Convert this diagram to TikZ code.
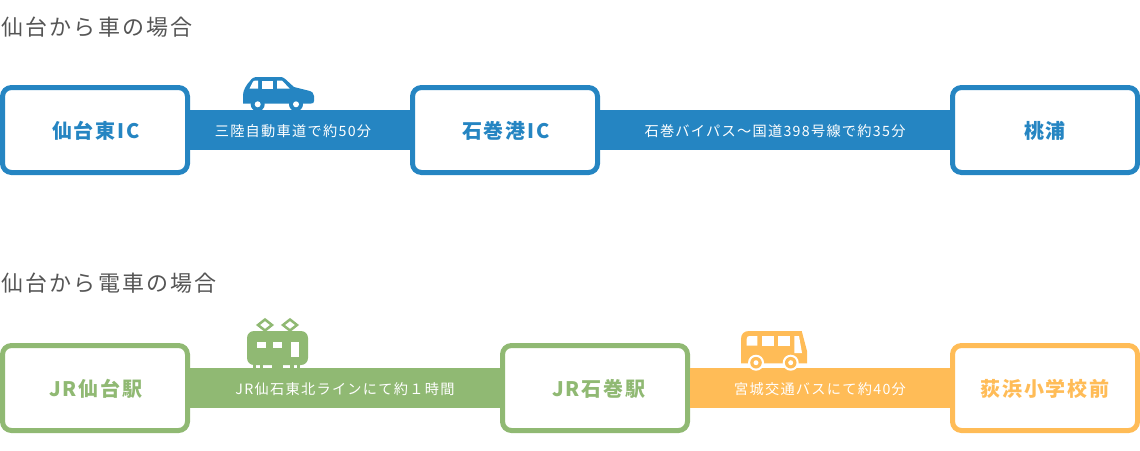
\documentclass[tikz,border=0pt]{standalone}
\usepackage{fontspec}
\setmainfont{Noto Sans CJK JP}
\newfontfamily\headfont[LetterSpace=10]{Noto Sans CJK JP}
\newfontfamily\stopfont[LetterSpace=9.5]{Noto Sans CJK JP}
\newfontfamily\legfont[LetterSpace=9]{Noto Sans CJK JP}
\definecolor{carblue}{HTML}{2585C2}
\definecolor{railgreen}{HTML}{90B973}
\definecolor{busorange}{HTML}{FFBC57}
\definecolor{headgray}{HTML}{555555}
\tikzset{
  head/.style={anchor=west, inner sep=0pt, text=headgray, font=\headfont\fontsize{22pt}{26pt}\selectfont},
  stop/.style={draw=#1, text=#1, fill=white, line width=5pt, rounded corners=9pt, minimum width=185pt, minimum height=85pt, inner sep=0pt, text height=18pt, text depth=2pt, font=\stopfont\bfseries\fontsize{20pt}{24pt}\selectfont},
  leg/.style={draw=#1, line width=40pt},
  leglabel/.style={text=white, inner sep=0pt, text height=14pt, text depth=2pt, font=\legfont\fontsize{14.2pt}{16pt}\selectfont}
}
\newcommand{\drawLeg}[6]{
  \draw[leg=#5] (#1.east) -- node[leglabel, #6] (#3) {#4} (#2.west);
}

\begin{document}
\begin{tikzpicture}[x=1pt, y=-1pt]
  \useasboundingbox (0,0) rectangle (1140,450);
  % Headings
  \node[head] (carHead) at (1,27) {仙台から車の場合};
  \node[head] (railHead) at (1,283) {仙台から電車の場合};

  % Nodes
  \node[stop=carblue] (A) at (95,130) {\hspace*{2pt}仙台東IC};
  \node[stop=carblue] (B) at (505,130) {\hspace*{2pt}石巻港IC};
  \node[stop=carblue] (C) at (1045,130) {桃浦};
  \node[stop=railgreen] (D) at (95,388) {\hspace*{2pt}JR仙台駅};
  \node[stop=railgreen] (E) at (595,388) {\hspace*{8pt}JR石巻駅};
  \node[stop=busorange] (F) at (1045,388) {荻浜小学校前};

  % Legs
  \drawLeg{A}{B}{legAB}{三陸自動車道で約50分}{carblue}{pos=0.468}
  \drawLeg{B}{C}{legBC}{石巻バイパス〜国道398号線で約35分}{carblue}{midway}
  \drawLeg{D}{E}{legDE}{JR仙石東北ラインにて約１時間}{railgreen}{midway}
  \drawLeg{E}{F}{legEF}{宮城交通バスにて約40分}{busorange}{midway}

  % Car
  \fill[carblue] (243,103.5) -- (243,95) .. controls (243,90) and (247,84) .. (250,81)
    .. controls (252,78) and (254,77) .. (258,77) -- (281,77) .. controls (284,77) and (286,80) .. (294,87)
    -- (308,90.5) .. controls (312,91.5) and (314,93) .. (314,96) -- (314,101) .. controls (314,103) and (313,103.5) .. (311,103.5) -- cycle;
  \fill[carblue] (257.7,104.3) circle (7);
  \fill[carblue] (296,104.3) circle (7);
  \fill[white] (257.7,104.3) circle (3);
  \fill[white] (296,104.3) circle (3);
  \fill[white] (249.5,88.5) -- (252.5,82.5) .. controls (253,81) and (254,80.5) .. (256,80.5) -- (258,80.5) -- (258,88.5) -- cycle;
  \fill[white] (262,80.5) rectangle (273,88.5);
  \fill[white] (277,80.5) -- (282,80.5) -- (289.5,88.5) -- (277,88.5) -- cycle;

  % Train
  \draw[railgreen, line width=2.5pt] (265,319.5) -- (272,325) -- (265,330.5) -- (258,325) -- cycle;
  \draw[railgreen, line width=2.5pt] (290,319.5) -- (297,325) -- (290,330.5) -- (283,325) -- cycle;
  \fill[railgreen, rounded corners=7pt] (247,365) -- (247,331) -- (308,331) -- (308,365) -- cycle;
  \fill[railgreen] (253,364) rectangle (256,368);
  \fill[railgreen] (260,364) rectangle (263,368);
  \fill[railgreen] (272,364) rectangle (283,368);
  \fill[railgreen] (290,364) rectangle (294,368);
  \fill[railgreen] (297,364) rectangle (300,368);
  \fill[white] (257.3,342.3) rectangle (266,348.3);
  \fill[white] (273.3,342.3) rectangle (282.3,348.3);
  \fill[white] (290.7,342.3) rectangle (298.7,356.7);

  % Bus
  \fill[busorange] (741,363.3) -- (741,339) .. controls (741,334) and (744,331) .. (749,331)
    -- (801.7,331) -- (807,351) -- (807,363.3) -- cycle;
  \fill[white] (746.7,345.7) -- (746.7,339) .. controls (746.7,337) and (747.7,336) .. (749.7,336) -- (757.3,336) -- (757.3,345.7) -- cycle;
  \fill[white] (761.7,336) rectangle (773.7,345.7);
  \fill[white] (777.7,336) rectangle (790,345.7);
  \fill[white] (794.3,336) -- (799,336) -- (802,353) -- (794.3,353) -- cycle;
  \foreach \wheelX in {756,790.7}{
    \fill[white] (\wheelX,362.7) circle (8);
    \fill[busorange] (\wheelX,362.7) circle (5.8);
    \fill[white] (\wheelX,362.7) circle (2.5);
  }
\end{tikzpicture}
\end{document}
